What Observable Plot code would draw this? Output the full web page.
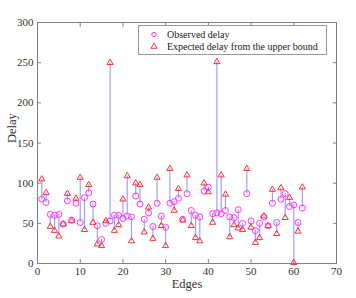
<!DOCTYPE html>
<html>
<head>
<meta charset="utf-8">
<script src="https://cdn.jsdelivr.net/npm/d3@7"></script>
<script src="https://cdn.jsdelivr.net/npm/@observablehq/plot@0.6"></script>
<style>
  html, body { margin: 0; padding: 0; background: #fff; }
  svg { font-family: "Liberation Serif", "DejaVu Serif", serif; }
</style>
</head>
<body>
<div id="chart"></div>
<script>
const edges = Array.from({length: 62}, (_, i) => i + 1);
const observed = [80, 76, 61, 60, 61, 49, 78, 54, 75, 51,
                  82, 88, 74, 47, 30, 50, 53, 60, 60, 56,
                  59, 58, 84, 74, 55, 63, 46, 75, 59, 45,
                  75, 77, 81, 55, 87, 66, 60, 58, 90, 95,
                  62, 63, 62, 66, 58, 57, 67, 50, 87, 53,
                  41, 50, 58, 47, 75, 51, 80, 87, 71, 73,
                  51, 69];
const expected = [105, 88, 46, 41, 34, 49, 87, 53, 81, 107,
                  42, 98, 51, 24, 22, 53, 250, 41, 48, 80,
                  109, 28, 100, 98, 39, 70, 31, 107, 47, 22,
                  118, 66, 93, 54, 110, 47, 32, 28, 100, 89,
                  51, 251, 110, 86, 33, 48, 44, 42, 118, 45,
                  26, 32, 59, 47, 92, 37, 94, 57, 82, 1,
                  40, 95];
const xTicks = [0, 10, 20, 30, 40, 50, 60, 70];
const yTicks = [0, 50, 100, 150, 200, 250, 300];
const legendLabels = ["Observed delay", "Expected delay from the upper bound"];
const colors = {observed: "#ff33ff", expected: "#ff3333", link: "#9f9fff", frame: "#808080"};

const data = edges.map((e, i) => ({edge: e, obs: observed[i], exp: expected[i]}));

const axisStyle = {tickSize: -4, tickPadding: 8, stroke: colors.frame, color: "#333", fontSize: 11};
const rObs = 3, rExp = 2.3;

const chart = Plot.plot({
  width: 356,
  height: 298,
  marginLeft: 37,
  marginRight: 20,
  marginTop: 22,
  marginBottom: 35,
  style: {fontFamily: "Liberation Serif, serif", fontSize: "11px", background: "#fff"},
  x: {domain: [0, 70]},
  y: {domain: [0, 300]},
  marks: [
    Plot.frame({stroke: colors.frame}),
    Plot.axisX(xTicks, {anchor: "bottom", ...axisStyle, label: null}),
    Plot.axisX(xTicks, {anchor: "top", tickSize: -4, stroke: colors.frame, text: null, label: null}),
    Plot.axisY(yTicks, {anchor: "left", ...axisStyle, label: null}),
    Plot.axisY(yTicks, {anchor: "right", tickSize: -4, stroke: colors.frame, text: null, label: null}),
    Plot.ruleX(data, {x: "edge", y1: "obs", y2: "exp", stroke: colors.link, strokeWidth: 1.2}),
    Plot.dot(data, {x: "edge", y: "obs", r: rObs, stroke: colors.observed, fill: "none", strokeWidth: 1}),
    Plot.dot(data, {x: "edge", y: "exp", r: rExp, symbol: "triangle", stroke: colors.expected, fill: "none", strokeWidth: 1}),
    Plot.text(["Edges"], {frameAnchor: "bottom", dy: 24, fontSize: 12.5, fill: "#333"}),
    Plot.text(["Delay"], {frameAnchor: "left", dx: -26, rotate: -90, fontSize: 12.5, fill: "#333"})
  ]
});

// Legend inside plot area (top-right)
const svg = d3.select(chart);
const g = svg.append("g").attr("font-family", "Liberation Serif, serif").attr("font-size", 10).attr("text-anchor", "start");
g.append("rect").attr("x", 138.5).attr("y", 25.5).attr("width", 188).attr("height", 29)
  .attr("fill", "#fff").attr("stroke", "#999");
const sym = [d3.symbol(d3.symbolCircle, Math.PI * 2.2 * 2.2)(), d3.symbol(d3.symbolTriangle, Math.PI * rExp * rExp)()];
legendLabels.forEach((lab, i) => {
  const yy = 34.5 + i * 12;
  g.append("path").attr("d", sym[i]).attr("transform", `translate(154,${yy})`)
    .attr("fill", "none").attr("stroke", i === 0 ? colors.observed : colors.expected);
  g.append("text").attr("x", 167).attr("y", yy).attr("dy", "0.35em").attr("text-anchor", "start").attr("fill", "#222").text(lab);
});

document.getElementById("chart").appendChild(chart);
</script>
</body>
</html>
